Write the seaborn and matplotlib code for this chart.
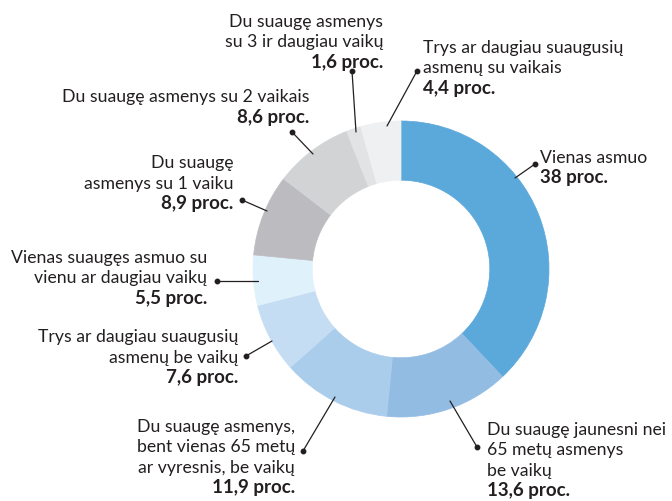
import matplotlib.pyplot as plt
import seaborn as sns

# data
labels = [
    "Vienas asmuo",
    "Du suaugę jaunesni nei\n65 metų asmenys\nbe vaikų",
    "Du suaugę asmenys,\nbent vienas 65 metų\nar vyresnis, be vaikų",
    "Trys ar daugiau suaugusių\nasmenų be vaikų",
    "Vienas suaugęs asmuo su\nvienu ar daugiau vaikų",
    "Du suaugę\nasmenys su 1 vaiku",
    "Du suaugę asmenys su 2 vaikais",
    "Du suaugę asmenys\nsu 3 ir daugiau vaikų",
    "Trys ar daugiau suaugusių\nasmenų su vaikais",
]
values = [38, 13.6, 11.9, 7.6, 5.5, 8.9, 8.6, 1.6, 4.4]
colors = ["#5ba8db", "#93bce3", "#abcdec", "#c5ddf2", "#dff1fa",
          "#bcbcc0", "#d2d3d5", "#e2e3e5", "#eff0f2"]

# label layout in image pixels: text x, first baseline y, alignment, dot, line end
layout = [
    (540, 163, "left", (535, 165), (515, 179)),
    (487, 435, "left", (477, 448), (450, 402)),
    (295, 432, "right", (303, 452), (335, 398)),
    (238, 342, "right", (246, 357), (272, 342)),
    (207, 263, "right", (217, 282), (258, 282)),
    (233, 168, "right", (242, 201), (267, 212)),
    (309, 102, "right", (292, 133), (313, 155)),
    (383, 27, "right", (352, 72), (356, 133)),
    (423, 53, "left", (417, 72), (387, 127)),
]

sns.set_theme(style="white")
plt.rcParams["font.family"] = ["Lato", "DejaVu Sans"]

W, H = 672, 502
fig = plt.figure(figsize=(W / 100, H / 100), dpi=100)
ax = fig.add_axes([0, 0, 1, 1])

def fy(y):
    return H - y

wedges, _ = ax.pie(values, colors=colors, startangle=90, counterclock=False,
                   center=(401, fy(270)), radius=148,
                   wedgeprops=dict(width=148 * 0.4, linewidth=0.5))
for w, c in zip(wedges, colors):
    w.set_edgecolor(c)
ax.set_xlim(0, W)
ax.set_ylim(0, H)
ax.set_axis_off()

txt = "#231f20"
step = 20.5
for lab, val, (x, y, ha, dot, end) in zip(labels, values, layout):
    lines = lab.split("\n")
    for i, line in enumerate(lines):
        ax.text(x, fy(y + i * step), line, ha=ha, va="baseline",
                fontsize=12.7, color=txt)
    num = f"{val:g}".replace(".", ",") + " proc."
    ax.text(x, fy(y + len(lines) * step), num, ha=ha, va="baseline",
            fontsize=13.5, fontweight="bold", color=txt)
    ax.plot([dot[0], end[0]], [fy(dot[1]), fy(end[1])], color=txt, lw=0.9)
    ax.plot(dot[0], fy(dot[1]), "o", color=txt, ms=3.2)

fig.savefig("out.png", dpi=100)
